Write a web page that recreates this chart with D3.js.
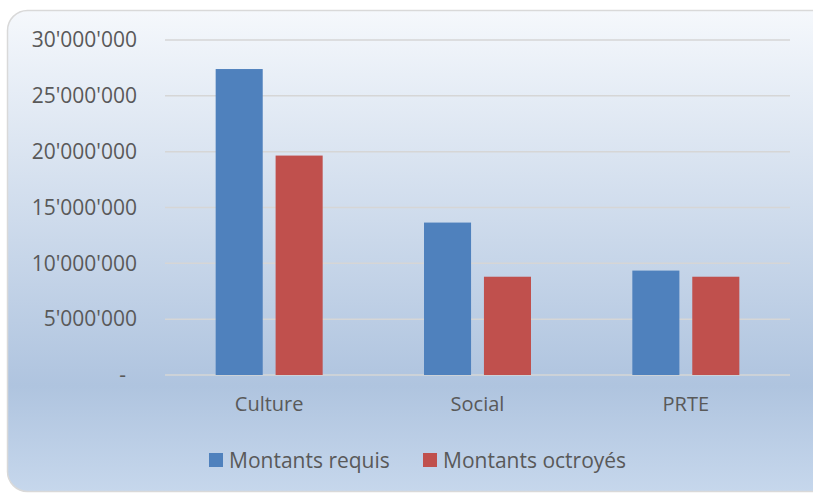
<!DOCTYPE html>
<html>
<head>
<meta charset="utf-8">
<script src="https://cdn.jsdelivr.net/npm/d3@7"></script>
<style>
    html, body { margin: 0; padding: 0; background: #ffffff; }
    svg { display: block; }
    text { font-family: "Open Sans", "DejaVu Sans", sans-serif; fill: #595959; }
</style>
</head>
<body>
<div id="chart"></div>
<script>
(function(d3) {
    'use strict';

    // Data
    var categories = ['Culture', 'Social', 'PRTE'];
    var seriesNames = ['Montants requis', 'Montants octroyés'];
    var requis = [27400000, 13650000, 9350000];
    var octroyes = [19650000, 8800000, 8800000];
    var yTicks = [0, 5000000, 10000000, 15000000, 20000000, 25000000, 30000000];

    var colors = ['#4f81bd', '#c0504d'];

    var width = 813,
        height = 493;

    // Plot area
    var margin = {top: 40, right: 23, bottom: 118, left: 165};
    var innerWidth = width - margin.left - margin.right,
        innerHeight = height - margin.top - margin.bottom;

    var svg = d3.select('#chart').append('svg')
        .attr('width', width)
        .attr('height', height);

    // Background gradient
    var grad = svg.append('defs').append('linearGradient')
        .attr('id', 'bgGrad')
        .attr('x1', 0).attr('y1', 0)
        .attr('x2', 0).attr('y2', 1);
    grad.append('stop').attr('offset', '0%').attr('stop-color', '#f5f8fc');
    grad.append('stop').attr('offset', '78%').attr('stop-color', '#afc4df');
    grad.append('stop').attr('offset', '100%').attr('stop-color', '#c6d7ec');

    svg.append('rect')
        .attr('x', 7.5)
        .attr('y', 10.5)
        .attr('width', 830)
        .attr('height', 481)
        .attr('rx', 20)
        .attr('fill', 'url(#bgGrad)')
        .attr('stroke', '#d9d9d9')
        .attr('stroke-width', 1.5);

    var chart = svg.append('g')
        .attr('transform', 'translate(' + margin.left + ',' + margin.top + ')');

    var x0 = d3.scaleBand()
        .domain(categories)
        .range([0, innerWidth])
        .paddingInner(0)
        .paddingOuter(0);

    var x1 = d3.scaleBand()
        .domain(seriesNames)
        .range([x0.bandwidth() / 2 - 53.5, x0.bandwidth() / 2 + 53.5])
        .paddingInner(0.215)
        .paddingOuter(0);

    var y = d3.scaleLinear()
        .domain([0, 30000000])
        .range([innerHeight, 0]);

    // Gridlines
    chart.append('g')
        .selectAll('line')
        .data(yTicks)
        .enter().append('line')
        .attr('x1', 0)
        .attr('x2', innerWidth)
        .attr('y1', function(d) { return y(d); })
        .attr('y2', function(d) { return y(d); })
        .attr('stroke', '#d6d6d6')
        .attr('stroke-width', 1.5);

    // Y axis labels
    var fmt = function(d) {
        if (d === 0) { return '-'; }
        return d3.format(',')(d).replace(/,/g, "'");
    };

    var yAxis = d3.axisLeft(y)
        .tickValues(yTicks)
        .tickFormat(fmt)
        .tickSize(0)
        .tickPadding(28);

    var yg = chart.append('g').call(yAxis);
    yg.select('.domain').remove();
    yg.selectAll('text')
        .attr('font-size', 21)
        .attr('fill', '#595959')
        .attr('font-family', '"Open Sans", sans-serif')
        .attr('dx', function(d) { return d === 0 ? -11 : 0; });

    // Bars
    var groups = chart.append('g')
        .selectAll('g')
        .data(categories)
        .enter().append('g')
        .attr('transform', function(d) { return 'translate(' + x0(d) + ',0)'; });

    groups.selectAll('rect')
        .data(function(d, i) {
            return [
                {name: seriesNames[0], value: requis[i]},
                {name: seriesNames[1], value: octroyes[i]}
            ];
        })
        .enter().append('rect')
        .attr('x', function(d) { return x1(d.name); })
        .attr('width', x1.bandwidth())
        .attr('y', function(d) { return y(d.value); })
        .attr('height', function(d) { return innerHeight - y(d.value); })
        .attr('fill', function(d, i) { return colors[i]; });

    // X axis labels
    var xAxis = d3.axisBottom(x0)
        .tickSize(0)
        .tickPadding(22);

    var xg = chart.append('g')
        .attr('transform', 'translate(0,' + innerHeight + ')')
        .call(xAxis);
    xg.select('.domain').remove();
    xg.selectAll('text')
        .attr('font-size', 20)
        .attr('fill', '#595959')
        .attr('font-family', '"Open Sans", sans-serif');

    // Legend
    var legend = svg.append('g')
        .attr('transform', 'translate(209,453)');

    var legendX = [0, 214];
    var items = legend.selectAll('g')
        .data(seriesNames)
        .enter().append('g')
        .attr('transform', function(d, i) { return 'translate(' + legendX[i] + ',0)'; });

    items.append('rect')
        .attr('width', 14)
        .attr('height', 14)
        .attr('fill', function(d, i) { return colors[i]; });

    items.append('text')
        .attr('x', 20)
        .attr('y', 14.5)
        .attr('font-size', 21)
        .text(function(d) { return d; });

}(d3));
</script>
</body>
</html>
